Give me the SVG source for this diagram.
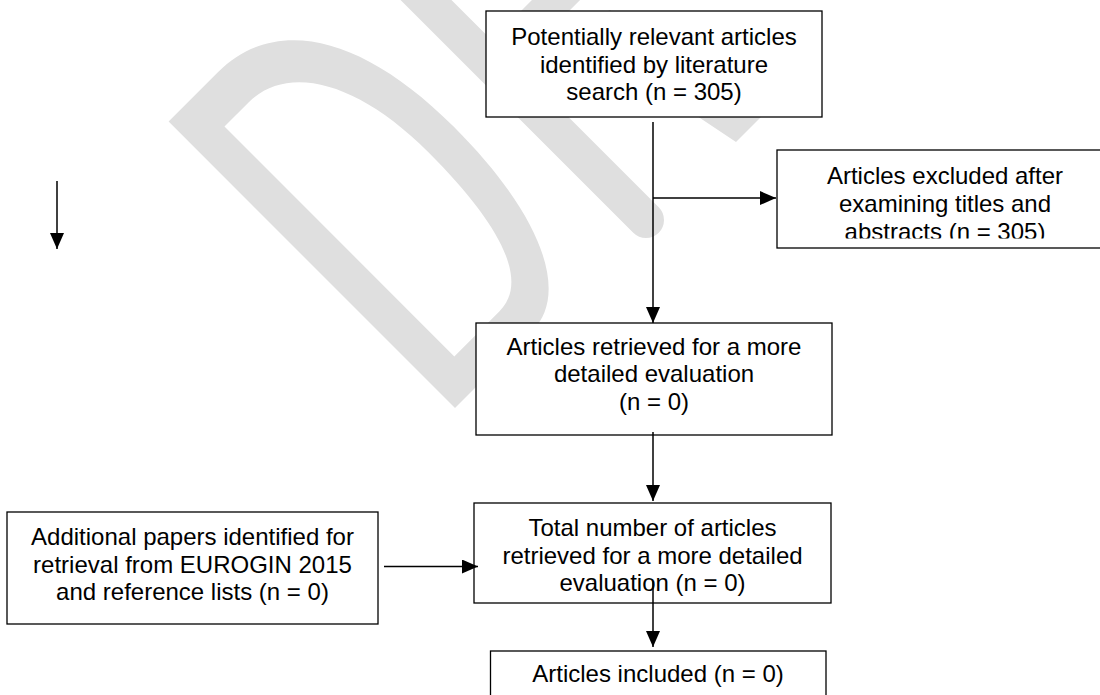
<svg xmlns="http://www.w3.org/2000/svg" width="1100" height="695" viewBox="0 0 1100 695">
  <style>
    .box { fill: #ffffff; stroke: #000000; stroke-width: 1.3; }
    .t { font-family: "Liberation Sans", Arial, sans-serif; font-size: 24px; fill: #000000; text-anchor: middle; }
    .wm { fill: #dfdfdf; stroke: none; }
    .wms { stroke: #dfdfdf; fill: none; }
    .conn { stroke: #000000; stroke-width: 1.5; fill: none; marker-end: url(#ah); }
  </style>
  <defs>
    <marker id="ah" markerUnits="userSpaceOnUse" markerWidth="16" markerHeight="14" refX="16" refY="7" orient="auto" viewBox="0 0 16 14">
      <path d="M0,0 L16,7 L0,14 Z" fill="#000000"/>
    </marker>
    <clipPath id="clip2">
      <rect x="777" y="150" width="340" height="88.5"/>
    </clipPath>
  </defs>
  <rect x="0" y="0" width="1100" height="695" fill="#ffffff"/>

  <g id="watermark">
    <path class="wm" fill-rule="evenodd" transform="translate(455,408) rotate(-45)"
          d="M0,0 L110,0 C160,0 198,-70 198,-200 C198,-330 150,-405 70,-405 L0,-405 Z
             M36,-37 L100,-37 C140,-37 162,-90 162,-200 C162,-300 125,-362 70,-362 L36,-362 Z"/>
    <line class="wms" x1="360" y1="-66" x2="646" y2="220" stroke-width="36" stroke-linecap="round"/>
    <line class="wms" x1="491" y1="65" x2="600" y2="-44" stroke-width="34"/>
    <polygon class="wm" points="568,30 610,10 770,108 736,142"/>
  </g>

  <g id="n1">
    <rect class="box" x="486" y="11" width="336" height="106"/>
    <text class="t" x="654" y="45">Potentially relevant articles</text>
    <text class="t" x="654" y="72.5">identified by literature</text>
    <text class="t" x="654" y="100">search (n = 305)</text>
  </g>
  <g id="n2">
    <rect class="box" x="777" y="150" width="336" height="98"/>
    <g clip-path="url(#clip2)">
      <text class="t" x="945" y="184">Articles excluded after</text>
      <text class="t" x="945" y="211.5">examining titles and</text>
      <text class="t" x="945" y="239.5">abstracts (n = 305)</text>
    </g>
  </g>
  <g id="n3">
    <rect class="box" x="476" y="323" width="356" height="112"/>
    <text class="t" x="654" y="354.5">Articles retrieved for a more</text>
    <text class="t" x="654" y="382">detailed evaluation</text>
    <text class="t" x="654" y="409.5">(n = 0)</text>
  </g>
  <g id="n4">
    <rect class="box" x="7" y="512" width="371" height="112"/>
    <text class="t" x="192.5" y="545">Additional papers identified for</text>
    <text class="t" x="192.5" y="572.5">retrieval from EUROGIN 2015</text>
    <text class="t" x="192.5" y="600">and reference lists (n = 0)</text>
  </g>
  <g id="n5">
    <rect class="box" x="474" y="503" width="357" height="100"/>
    <text class="t" x="652.5" y="536">Total number of articles</text>
    <text class="t" x="652.5" y="563.5">retrieved for a more detailed</text>
    <text class="t" x="652.5" y="591">evaluation (n = 0)</text>
  </g>
  <g id="n6">
    <rect class="box" x="490.5" y="651" width="335.5" height="60"/>
    <text class="t" x="658" y="682">Articles included (n = 0)</text>
  </g>

  <g id="connectors">
    <path class="conn" d="M653,122 L653,323"/>
    <path class="conn" d="M653,198 L776,198"/>
    <path class="conn" d="M653,432 L653,501"/>
    <path class="conn" d="M384,566.5 L478,566.5"/>
    <path class="conn" d="M653,581 L653,647"/>
    <path class="conn" d="M57,181 L57,249"/>
  </g>
</svg>
